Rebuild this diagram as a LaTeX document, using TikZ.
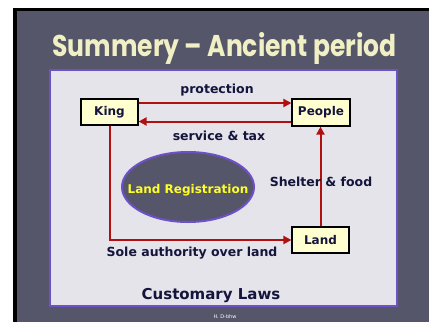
\documentclass[tikz,border=0pt]{standalone}
\usepackage{fontspec}
\setmainfont{DejaVu Sans}
\newfontfamily\titlefont{Poppins}
\usetikzlibrary{arrows.meta,shapes.geometric}
\definecolor{slate}{RGB}{86,86,106}
\definecolor{panel}{RGB}{228,228,234}
\definecolor{pborder}{RGB}{110,80,200}
\definecolor{boxfill}{RGB}{255,255,208}
\definecolor{arrred}{RGB}{176,16,16}
\definecolor{navy}{RGB}{20,20,60}
\definecolor{titlecol}{RGB}{240,240,196}
\definecolor{regyellow}{RGB}{255,255,40}
\tikzset{
  entity/.style={draw=black, line width=1.2pt, fill=boxfill, minimum width=57pt, minimum height=26pt, inner sep=0pt, font=\bfseries\fontsize{12}{13}\selectfont, text=navy},
  arr/.style={draw=arrred, line width=2pt, -{Triangle[length=8pt,width=8pt]}},
  lbl/.style={font=\bfseries\fontsize{12.5}{13}\selectfont, text=navy, inner sep=0pt}
}
\begin{document}
\begin{tikzpicture}[x=1pt,y=-1pt]
\useasboundingbox (0,0) rectangle (429,322);
\fill[white] (0,0) rectangle (429,322);
\fill[black] (13,8) rectangle (429,322);
\fill[slate] (17,11) rectangle (429,322);
\draw[pborder, line width=2pt, fill=panel] (50,70) rectangle (397,306);
\node[font=\titlefont\bfseries\fontsize{25}{27}\selectfont, text=titlecol, inner sep=0pt, yscale=1.2] (title) at (224.5,48) {Summery – Ancient period};
\node[entity] (king) at (109.5,112) {King};
\node[entity, minimum width=58pt, minimum height=27pt] (people) at (321,112.5) {People};
\node[entity] (land) at (320.5,240) {Land};
\node[ellipse, draw=pborder, line width=2pt, fill=slate, minimum width=132pt, minimum height=70pt, inner sep=0pt] (reg) at (188,187) {};
\node[lbl, text=regyellow, font=\bfseries\fontsize{12}{13}\selectfont] (regtext) at (188,190) {Land Registration};
\draw[arr] ([yshift=9pt]king.east) -- ([yshift=9pt]king.east -| people.west);
\draw[arr] ([yshift=-9pt]people.west) -- ([yshift=-9pt]people.west -| king.east);
\draw[arr] (king.south) |- (land.west);
\draw[arr] (land.north) -- (land.north |- people.south);
\node[lbl] (prot) at (217,90) {protection};
\node[lbl] (serv) at (219,136) {service \& tax};
\node[lbl] (shelter) at (321,182) {Shelter \& food};
\node[lbl] (sole) at (192,253) {Sole authority over land};
\node[lbl, font=\bfseries\fontsize{15}{16}\selectfont] (cust) at (211,296) {Customary Laws};
\node[font=\fontsize{5}{6}\selectfont, text=white, inner sep=0pt] (foot) at (225,317) {H. D-bhw};
\end{tikzpicture}
\end{document}
